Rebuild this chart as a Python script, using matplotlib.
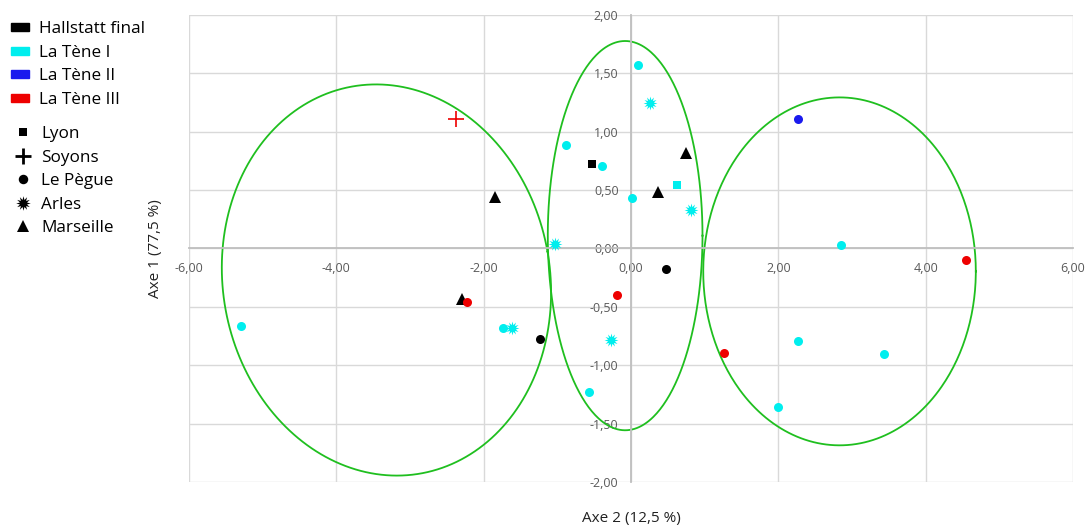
import numpy as np
import matplotlib
matplotlib.use("Agg")
import matplotlib.pyplot as plt
from matplotlib.patches import Rectangle
from matplotlib.lines import Line2D

plt.rcParams['font.family'] = ['Open Sans', 'DejaVu Sans']

# scores on the two axes
axe2 = [-2.38, -1.85, -1.03, -2.29, -2.23, -5.30, -1.74, -1.61, -1.24, -0.88,
        0.09, 0.26, -0.535, -0.39, 0.74, 0.63, 0.36, 0.016, 0.81,
        0.477, -0.19, -0.27, -0.57, 1.26,
        2.27, 2.85, 4.54, 2.26, 3.43, 1.995]
axe1 = [1.108, 0.44, 0.037, -0.43, -0.46, -0.66, -0.68, -0.68, -0.775, 0.89,
        1.57, 1.25, 0.72, 0.71, 0.82, 0.545, 0.48, 0.43, 0.33,
        -0.18, -0.40, -0.78, -1.225, -0.895,
        1.105, 0.03, -0.098, -0.79, -0.905, -1.36]
periods = ['LT3', 'HF', 'LT1', 'HF', 'LT3', 'LT1', 'LT1', 'LT1', 'HF', 'LT1',
           'LT1', 'LT1', 'HF', 'LT1', 'HF', 'LT1', 'HF', 'LT1', 'LT1',
           'HF', 'LT3', 'LT1', 'LT1', 'LT3',
           'LT2', 'LT1', 'LT3', 'LT1', 'LT1', 'LT1']
sites = ['Soyons', 'Marseille', 'Arles', 'Marseille', 'Le Pègue', 'Le Pègue', 'Le Pègue', 'Arles', 'Le Pègue', 'Le Pègue',
         'Le Pègue', 'Arles', 'Lyon', 'Le Pègue', 'Marseille', 'Lyon', 'Marseille', 'Le Pègue', 'Arles',
         'Le Pègue', 'Le Pègue', 'Arles', 'Le Pègue', 'Le Pègue',
         'Le Pègue', 'Le Pègue', 'Le Pègue', 'Le Pègue', 'Le Pègue', 'Le Pègue']

period_names = ['Hallstatt final', 'La Tène I', 'La Tène II', 'La Tène III']
period_keys = ['HF', 'LT1', 'LT2', 'LT3']
period_colors = ['#000000', '#00eeee', '#1a1aee', '#ee0000']
site_names = ['Lyon', 'Soyons', 'Le Pègue', 'Arles', 'Marseille']
site_markers = ['s', '+', 'o', (12, 1, 0), '^']
site_sizes = [6, 11, 6.5, 10, 8.5]

# groups (centre x, centre y, half width, half height, tilt on screen in deg)
groups_cx = [-3.32, -0.08, 2.83]
groups_cy = [-0.27, 0.11, -0.196]
groups_rx = [2.22, 1.05, 1.85]
groups_ry = [1.683, 1.667, 1.49]
groups_tilt = [10, 0, 0]

xticks = np.arange(-6, 6.01, 2)
yticks = np.arange(-2, 2.01, 0.5)

fig = plt.figure(figsize=(10.85, 5.31), dpi=100)
ax = fig.add_axes([0.1742, 0.0923, 0.8148, 0.8795])

ax.set_xlim(-6, 6)
ax.set_ylim(-2, 2)
ax.set_xticks(xticks)
ax.set_yticks(yticks)
ax.set_xticklabels([f"{v:.2f}".replace('.', ',') for v in xticks])
ax.set_yticklabels([f"{v:.2f}".replace('.', ',') for v in yticks])
ax.grid(True, color='#d9d9d9', lw=1.0)
ax.set_axisbelow(True)

for s in ['top', 'right']:
    ax.spines[s].set_visible(False)
for s in ['left', 'bottom']:
    ax.spines[s].set_position(('data', 0))
    ax.spines[s].set_color('#bfbfbf')
    ax.spines[s].set_linewidth(1.3)
ax.tick_params(axis='both', length=0, labelsize=9, labelcolor='#595959')
ax.tick_params(axis='x', pad=9.5)
ax.tick_params(axis='y', pad=9)

# pixels per data unit, so the tilt is applied on screen
bb = ax.get_window_extent()
sx = bb.width / 12
sy = bb.height / 4
t = np.linspace(0, 2 * np.pi, 400)
for cx, cy, rx, ry, tilt in zip(groups_cx, groups_cy, groups_rx, groups_ry, groups_tilt):
    th = np.radians(tilt)
    u = rx * sx * np.cos(t)
    v = ry * sy * np.sin(t)
    ex = cx + (u * np.cos(th) - v * np.sin(th)) / sx
    ey = cy + (u * np.sin(th) + v * np.cos(th)) / sy
    ax.plot(ex, ey, color='#1fbf1f', lw=1.3, zorder=2)

for x, y, p, s in zip(axe2, axe1, periods, sites):
    c = period_colors[period_keys.index(p)]
    i = site_names.index(s)
    mew = 1.2 if s == 'Soyons' else 0
    ax.plot(x, y, marker=site_markers[i], ms=site_sizes[i], color=c,
            mew=mew, ls='none', zorder=3)

ax.set_xlabel("Axe 2 (12,5 %)", fontsize=11, color='#222222')
ax.xaxis.set_label_coords(0.5, -0.062)
ax.set_ylabel("Axe 1 (77,5 %)", fontsize=11, color='#222222')
ax.yaxis.set_label_coords(-0.029, 0.5)

# hand-made legend
row_h = 23.6 / 531
y0 = 1 - 27 / 531
for k, (name, col) in enumerate(zip(period_names, period_colors)):
    yy = y0 - k * row_h
    fig.add_artist(Rectangle((11 / 1085, yy - 4 / 531), 18 / 1085, 8 / 531,
                             transform=fig.transFigure, color=col))
    fig.text(39 / 1085, yy, name, fontsize=12.3, va='center_baseline', ha='left')

y1 = 1 - 132 / 531
for k, name in enumerate(site_names):
    yy = y1 - k * row_h
    mew = 2 if name == 'Soyons' else 0
    fig.add_artist(Line2D([23 / 1085], [yy], transform=fig.transFigure,
                          marker=site_markers[k], ms=site_sizes[k] * 1.05,
                          color='black', mew=mew, ls='none'))
    fig.text(41 / 1085, yy, name, fontsize=12.3, va='center_baseline', ha='left')

fig.savefig('out.png', dpi=100)
